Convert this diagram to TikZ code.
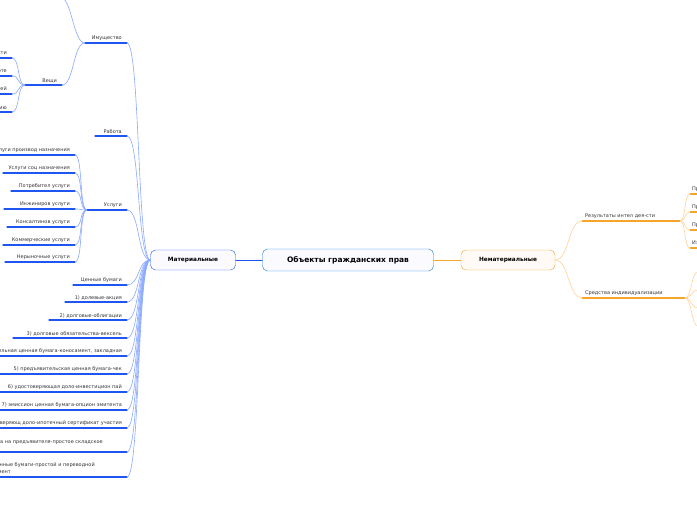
\documentclass[tikz,border=0pt]{standalone}
\usepackage{fontspec}
\setmainfont{DejaVu Sans}
\definecolor{bline}{HTML}{1F55F0}
\definecolor{bcur}{HTML}{8AA8FF}
\definecolor{oline}{HTML}{F7A52A}
\definecolor{ocur}{HTML}{FFD29A}
\begin{document}
\begin{tikzpicture}[x=1pt,y=-1pt,
  bl/.style={draw=bline, line width=1.2pt, line cap=round},
  blc/.style={draw=bcur, line width=0.6pt},
  ol/.style={draw=oline, line width=1.2pt},
  olc/.style={draw=ocur, line width=0.6pt},
  lt/.style={font=\fontsize{5}{6}\selectfont, text=black!80, inner sep=1pt, anchor=south east},
  rt/.style={font=\fontsize{5}{6}\selectfont, text=black!80, inner sep=1pt, anchor=south west}]
\useasboundingbox (0,0) rectangle (697,520);
\newcommand\lleaf[5]{% name y leftx rightx text
  \draw[bl] (#3,#2) -- (#4,#2) coordinate (#1);
  \node[lt] (#1t) at (#4-4,#2-1) {#5};}
% central
\node[draw=bline!80!cyan, fill=blue!2, rounded corners=5pt, minimum width=171pt, minimum height=22pt, font=\bfseries\fontsize{7.5}{8.5}\selectfont] (c) at (348,260) {Объекты гражданских прав};
\node[draw=bline, fill=blue!2, rounded corners=5pt, minimum width=85pt, minimum height=20pt, font=\bfseries\fontsize{5.8}{6.8}\selectfont] (m) at (193,260) {Материальные};
\node[draw=oline, fill=orange!4, rounded corners=5pt, minimum width=94pt, minimum height=20pt, font=\bfseries\fontsize{5.8}{6.8}\selectfont] (n) at (508,260) {Нематериальные};
\draw[bl,line width=0.6pt] (c.west) -- (m.east);
\draw[ol,line width=0.6pt] (c.east) -- (n.west);
% left children of Материальные
\lleaf{im}{43}{85}{127}{Имущество}
\lleaf{rab}{136}{95}{127}{Работа}
\lleaf{usl}{210}{87}{127}{Услуги}
\lleaf{cb}{285}{73}{127}{Ценные бумаги}
\lleaf{s1}{302}{65}{127}{1) долевые-акция}
\lleaf{s2}{320}{49}{127}{2) долговые-облигации}
\lleaf{s3}{338}{13}{127}{3) долговые обязательства-вексель}
\lleaf{s4}{356}{0}{127}{4) товарораспорядительная ценная бумага-коносамент, закладная}
\lleaf{s5}{374}{0}{127}{5) предъявительская ценная бумага-чек}
\lleaf{s6}{392}{0}{127}{6) удостоверяющая доло-инвестицион пай}
\lleaf{s7}{410}{0}{127}{7) эмиссион ценная бумага-опцион эмитента}
\lleaf{s8}{428}{0}{127}{8) удостоверяющ доло-ипотечный сертификат участия}
\draw[bl] (0,452) -- (127,452) coordinate (s9);
\node[lt, anchor=base east] (s9t) at (104,443) {9) ценная бумага на предъявителя-простое складское};
\draw[bl] (0,477) -- (127,477) coordinate (s10);
\node[font=\fontsize{5}{6.6}\selectfont, text=black!80, inner sep=1pt, align=left, anchor=east] (s10t) at (96,468.5) {10) ордерные ценные бумаги-простой и переводной\\вексель, коносамент};
\foreach \k in {im,rab,usl,cb,s1,s2,s3,s4,s5,s6,s7,s8,s9,s10}
  \draw[blc] (m.west) .. controls +(-13,0) and +(13,0) .. (\k);
% Имущество children
\coordinate (imj) at (85,43);
\coordinate (den) at (60,-3);
\draw[bl] (25,85) -- (62,85) coordinate (ve);
\node[lt] (vet) at (58,84) {Вещи};
\draw[blc] (imj) .. controls +(-12,0) and +(12,0) .. (den);
\draw[blc] (imj) .. controls +(-12,0) and +(12,0) .. (ve);
\coordinate (vej) at (25,85);
\lleaf{v1}{58}{0}{12}{Вещи по оборотоспособности}
\lleaf{v2}{76}{0}{12}{Вещи ограниченные в обороте}
\lleaf{v3}{94}{0}{12}{Главная вещь и принадлежностей}
\lleaf{v4}{112}{0}{12}{Вещи по назначению}
\foreach \k in {v1,v2,v3,v4}
  \draw[blc] (vej) .. controls +(-8,0) and +(8,0) .. (\k);
% Услуги children
\coordinate (uj) at (87,210);
\lleaf{u1}{155}{0}{75}{Услуги производ назначения}
\lleaf{u2}{173}{3}{75}{Услуги соц назначения}
\lleaf{u3}{191}{11}{75}{Потребител услуги}
\lleaf{u4}{209}{4}{75}{Инжиниров услуги}
\lleaf{u5}{227}{7}{75}{Консалтинов услуги}
\lleaf{u6}{245}{3}{75}{Коммерческие услуги}
\lleaf{u7}{262}{5}{75}{Нерыночные услуги}
\foreach \k in {u1,u2,u3,u4,u5,u6,u7}
  \draw[blc] (uj) .. controls +(-8,0) and +(8,0) .. (\k);
% right side
\draw[ol] (582,221) coordinate (r1) -- (680,221) coordinate (r1e);
\node[rt] (r1t) at (584,220) {Результаты интел дея-сти};
\draw[ol] (582,298) coordinate (r2) -- (685,298) coordinate (r2e);
\node[rt] (r2t) at (584,297) {Средства индивидуализации};
\draw[olc] (n.east) .. controls +(14,0) and +(-14,0) .. (r1);
\draw[olc] (n.east) .. controls +(14,0) and +(-14,0) .. (r2);
\foreach \k/\y/\t in {p1/194/Произведения науки, p2/212/Программы для ЭВМ, p3/230/Промышленные образцы, p4/248/Изобретения}{
  \draw[ol] (690,\y) coordinate (\k) -- (697,\y);
  \node[rt] (\k t) at (691,\y-1) {\t};
  \draw[olc] (r1e) .. controls +(6,0) and +(-6,0) .. (\k);}
\foreach \k/\y in {q1/272, q2/290, q3/308, q4/326}{
  \coordinate (\k) at (698,\y);
  \draw[olc] (r2e) .. controls +(7,0) and +(-7,0) .. (\k);}
\end{tikzpicture}
\end{document}
